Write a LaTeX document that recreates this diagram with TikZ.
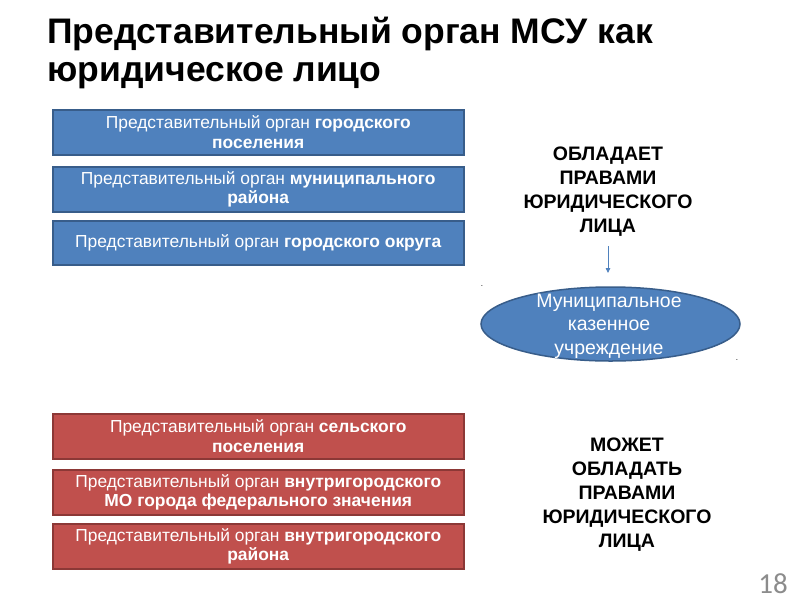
\documentclass[tikz,border=0pt]{standalone}
\usepackage{fontspec}
\setmainfont{Liberation Sans}
\newfontfamily\numfont{Carlito}
\usetikzlibrary{shapes.geometric,arrows.meta}
\definecolor{bfill}{HTML}{4F81BD}
\definecolor{bdraw}{HTML}{385D8A}
\definecolor{rfill}{HTML}{C0504D}
\definecolor{rdraw}{HTML}{8C3836}
\tikzset{
  bluebox/.style={draw=bdraw, fill=bfill, line width=1.5pt, minimum width=411pt, minimum height=45pt, align=center, text=white, font=\fontsize{17.4}{19.5}\selectfont, anchor=north west, inner sep=0pt},
  redbox/.style={bluebox, draw=rdraw, fill=rfill},
  righttxt/.style={align=center, font=\fontsize{19.5}{24}\selectfont\bfseries, text=black},
  titletxt/.style={anchor=base west, inner sep=0pt, font=\fontsize{35.5}{41}\selectfont\bfseries},
}
\begin{document}
\begin{tikzpicture}[x=1pt,y=-1pt]
\useasboundingbox (0,0) rectangle (800,600);
\node[titletxt] (t1) at (47,43) {Представительный орган МСУ как};
\node[titletxt] (t2) at (47,81.5) {юридическое лицо};

\node[bluebox] (b1) at (52,109) {Представительный орган \textbf{городского}\\\textbf{поселения}};
\node[bluebox] (b2) at (52,166) {Представительный орган \textbf{муниципального}\\\textbf{района}};
\node[bluebox, minimum height=44pt] (b3) at (52,220) {Представительный орган \textbf{городского округа}};

\node[redbox] (r1) at (52,413) {Представительный орган \textbf{сельского}\\\textbf{поселения}};
\node[redbox] (r2) at (52,469) {Представительный орган \textbf{внутригородского}\\\textbf{МО города федерального значения}};
\node[redbox] (r3) at (52,523) {Представительный орган \textbf{внутригородского}\\\textbf{района}};

\node[righttxt] (p1) at (608,192) {ОБЛАДАЕТ\\ПРАВАМИ\\ЮРИДИЧЕСКОГО\\ЛИЦА};
\node[draw=bdraw, fill=bfill, line width=1.5pt, ellipse, minimum width=259pt, minimum height=74pt, inner sep=0pt] (el) at (610.5,324) {};
\node[align=center, text=white, font=\fontsize{19.5}{23.5}\selectfont] (elt) at (609,326) {Муниципальное\\казенное\\учреждение};
\coordinate (arrs) at (608,246);
\draw[draw=bfill, line width=0.8pt, -{Triangle[length=5pt,width=4.5pt]}] (arrs) -- (608,273);

\node[inner sep=0pt, font=\fontsize{8}{8}\selectfont] (d1) at (482,286) {.};
\node[inner sep=0pt, font=\fontsize{8}{8}\selectfont] (d2) at (737,360) {.};

\node[righttxt] (p2) at (627,495) {МОЖЕТ\\ОБЛАДАТЬ\\ПРАВАМИ\\ЮРИДИЧЕСКОГО\\ЛИЦА};

\node[anchor=base east, inner sep=0pt, text={rgb,255:red,140;green,140;blue,140}, font=\numfont\fontsize{29}{29}\selectfont] (pg) at (788,593) {18};
\end{tikzpicture}
\end{document}
